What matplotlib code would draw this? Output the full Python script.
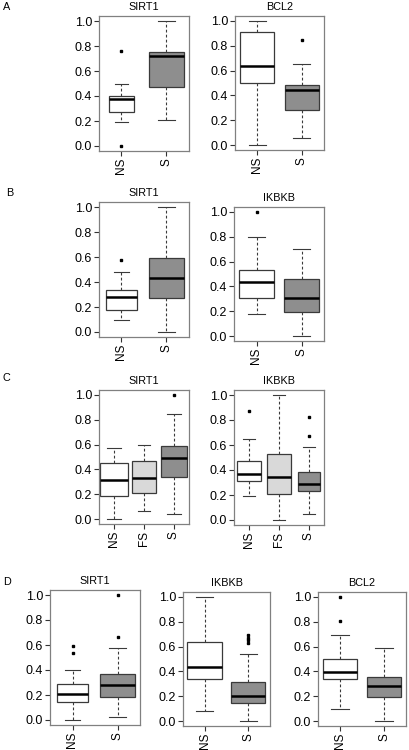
import matplotlib

matplotlib.use("Agg")
import matplotlib.pyplot as plt

plt.rcParams["font.family"] = ["Liberation Sans", "DejaVu Sans"]
plt.rcParams["font.size"] = 9

# five-number summaries per group: [whisker low, Q1, median, Q3, whisker high]
A_SIRT1 = [[0.19, 0.27, 0.374, 0.40, 0.495], [0.21, 0.47, 0.72, 0.755, 1.0]]
A_SIRT1_OUT = [[0.0, 0.76], []]
A_BCL2 = [[0.0, 0.50, 0.635, 0.915, 1.0], [0.06, 0.285, 0.445, 0.48, 0.655]]
A_BCL2_OUT = [[], [0.85]]

B_SIRT1 = [[0.095, 0.175, 0.278, 0.335, 0.48], [0.0, 0.27, 0.436, 0.59, 1.0]]
B_SIRT1_OUT = [[0.575], []]
B_IKBKB = [[0.178, 0.307, 0.434, 0.531, 0.798], [0.0, 0.19, 0.305, 0.46, 0.705]]
B_IKBKB_OUT = [[1.0], []]

C_SIRT1 = [
    [0.0, 0.182, 0.316, 0.448, 0.571],
    [0.064, 0.212, 0.33, 0.464, 0.595],
    [0.04, 0.338, 0.491, 0.587, 0.847],
]
C_SIRT1_OUT = [[], [], [1.0]]
C_IKBKB = [
    [0.195, 0.313, 0.369, 0.473, 0.652],
    [0.0, 0.206, 0.345, 0.527, 1.0],
    [0.051, 0.23, 0.289, 0.382, 0.588],
]
C_IKBKB_OUT = [[0.869], [], [0.821, 0.671]]

D_SIRT1 = [[0.0, 0.147, 0.211, 0.285, 0.403], [0.021, 0.187, 0.283, 0.371, 0.573]]
D_SIRT1_OUT = [[0.595, 0.539], [1.0, 0.661]]
D_IKBKB = [[0.081, 0.339, 0.438, 0.634, 1.0], [0.0, 0.142, 0.199, 0.312, 0.538]]
D_IKBKB_OUT = [[], [0.69, 0.67, 0.65, 0.63]]
D_BCL2 = [[0.094, 0.336, 0.398, 0.503, 0.694], [0.0, 0.196, 0.282, 0.358, 0.589]]
D_BCL2_OUT = [[1.0, 0.809], []]

GROUPS2 = ["NS", "S"]
GROUPS3 = ["NS", "FS", "S"]
YTICKS = [0.0, 0.2, 0.4, 0.6, 0.8, 1.0]

FILL = {"NS": "white", "FS": "#d9d9d9", "S": "#8e8e8e"}

W, H = 409, 750
fig = plt.figure(figsize=(W / 100, H / 100), dpi=100)


def add_panel(px, title, summary, outliers, labels, widths):
    left, top, right, bottom = px
    ax = fig.add_axes([left / W, 1 - bottom / H, (right - left) / W, (bottom - top) / H])
    stats = []
    for lab, s, out in zip(labels, summary, outliers):
        stats.append(
            dict(whislo=s[0], q1=s[1], med=s[2], q3=s[3], whishi=s[4], fliers=out, label=lab)
        )
    art = ax.bxp(
        stats,
        positions=range(1, len(labels) + 1),
        widths=widths,
        patch_artist=True,
        showfliers=True,
        boxprops=dict(edgecolor="#3a3a3a", linewidth=0.9),
        medianprops=dict(color="black", linewidth=1.8),
        whiskerprops=dict(color="#3a3a3a", linewidth=0.8, linestyle=(0, (2.5, 2))),
        capprops=dict(color="#3a3a3a", linewidth=0.8),
        flierprops=dict(marker="s", markersize=2, markerfacecolor="black",
                        markeredgecolor="black"),
    )
    for box, lab in zip(art["boxes"], labels):
        box.set_facecolor(FILL[lab])
    # R-style staples: half the box width
    for cap, w in zip(art["caps"], [w for w in widths for _ in (0, 1)]):
        x0, x1 = cap.get_xdata()
        c = (x0 + x1) / 2
        cap.set_xdata([c - w / 4, c + w / 4])
    ax.set_xlim(0.5, len(labels) + 0.5)
    ax.set_ylim(-0.04, 1.04)
    ax.set_yticks(YTICKS)
    ax.set_yticklabels([f"{t:.1f}" for t in YTICKS])
    ax.set_xticks(range(1, len(labels) + 1))
    ax.set_xticklabels(labels, rotation=90)
    ax.tick_params(length=3.5, width=0.8, color="#333333", pad=1.5)
    ax.tick_params(axis="y", labelsize=9)
    ax.tick_params(axis="x", labelsize=8.5)
    for sp in ax.spines.values():
        sp.set_color("#808080")
        sp.set_linewidth(0.9)
    ax.set_title(title, fontsize=7.8, pad=4)
    return ax


add_panel((99, 16, 189, 151), "SIRT1", A_SIRT1, A_SIRT1_OUT, GROUPS2, [0.55, 0.76])
add_panel((235, 16, 324, 150), "BCL2", A_BCL2, A_BCL2_OUT, GROUPS2, [0.76, 0.76])
add_panel((99, 202, 189, 337), "SIRT1", B_SIRT1, B_SIRT1_OUT, GROUPS2, [0.71, 0.76])
add_panel((234, 207, 324, 341), "IKBKB", B_IKBKB, B_IKBKB_OUT, GROUPS2, [0.76, 0.76])
add_panel((99, 390, 189, 524), "SIRT1", C_SIRT1, C_SIRT1_OUT, GROUPS3, [0.92, 0.77, 0.88])
add_panel((234, 390, 324, 525), "IKBKB", C_IKBKB, C_IKBKB_OUT, GROUPS3, [0.8, 0.77, 0.74])
add_panel((50, 590, 140, 725), "SIRT1", D_SIRT1, D_SIRT1_OUT, GROUPS2, [0.69, 0.78])
add_panel((183, 592, 270, 726), "IKBKB", D_IKBKB, D_IKBKB_OUT, GROUPS2, [0.8, 0.78])
add_panel((318, 592, 406, 726), "BCL2", D_BCL2, D_BCL2_OUT, GROUPS2, [0.78, 0.78])

for letter, (x, y) in zip("ABCD", [(7, 7), (10, 193), (6, 378), (7, 582)]):
    fig.text(x / W, 1 - y / H, letter, ha="center", va="center", fontsize=7.8)

fig.savefig("out.png", dpi=100)
